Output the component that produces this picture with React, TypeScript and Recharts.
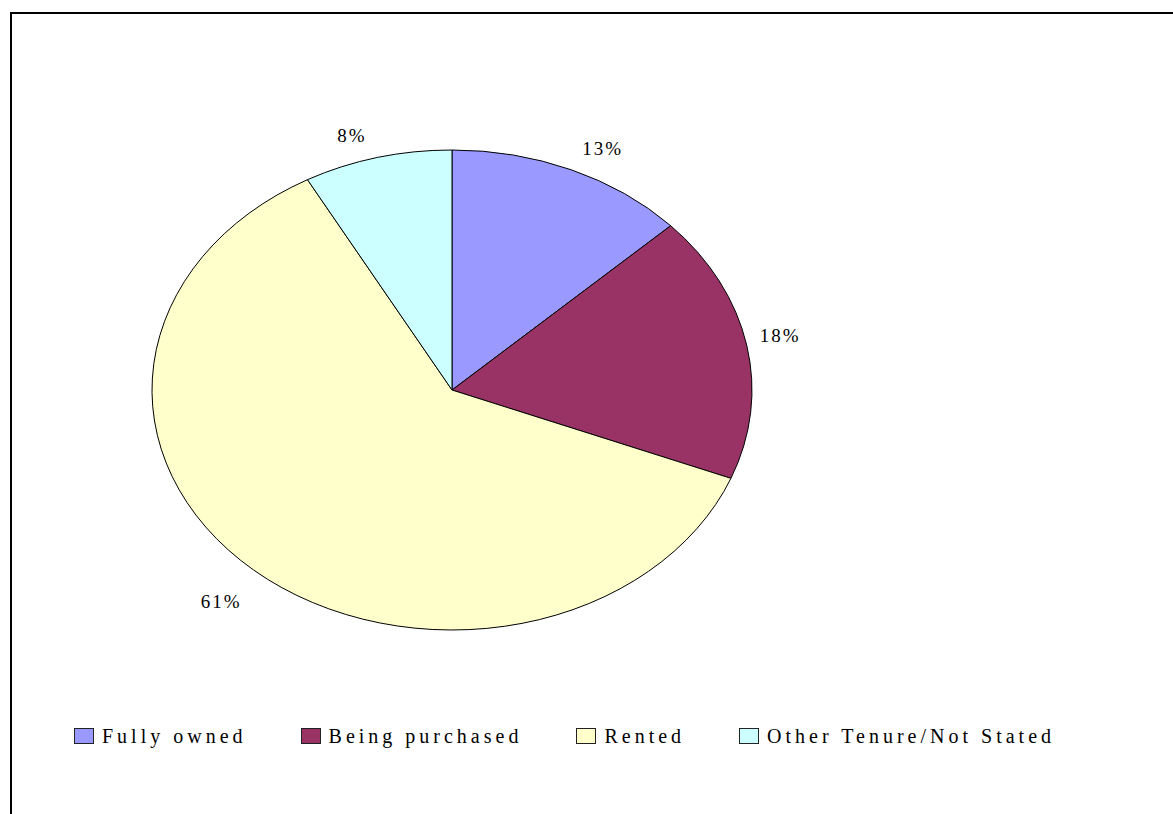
import { PieChart, Pie, Cell, Legend } from "recharts";

const CATEGORIES = ["Fully owned", "Being purchased", "Rented", "Other Tenure/Not Stated"];
const SHARES = [13, 18, 61, 8];
const COLORS = ["#9999FF", "#993366", "#FFFFCC", "#CCFFFF"];

const WIDTH = 1173;
const HEIGHT = 814;
const CX = 452;
const CY = 390;
const RX = 300;
const RY = 240;
const SQUASH = RY / RX;
const RAD = Math.PI / 180;
const FONT = '"Liberation Serif", "Times New Roman", serif';

const pieData = CATEGORIES.map((name, i) => ({ name, value: SHARES[i] }));

function onEllipse(cx: number, cy: number, r: number, angle: number) {
  return [cx + r * Math.cos(angle * RAD), cy - r * SQUASH * Math.sin(angle * RAD)];
}

// recharts only draws round pies, so the sector is redrawn as an elliptical wedge
function EllipseSector(props: any) {
  const { cx, cy, outerRadius, startAngle, endAngle, fill } = props;
  const [x1, y1] = onEllipse(cx, cy, outerRadius, startAngle);
  const [x2, y2] = onEllipse(cx, cy, outerRadius, endAngle);
  const large = Math.abs(endAngle - startAngle) > 180 ? 1 : 0;
  const sweep = startAngle > endAngle ? 1 : 0;
  const d = `M${cx},${cy} L${x1},${y1} A${outerRadius},${outerRadius * SQUASH} 0 ${large} ${sweep} ${x2},${y2} Z`;
  return <path d={d} fill={fill} stroke="#000" strokeWidth={1} strokeLinejoin="round" />;
}

function renderLabel(props: any) {
  const { cx, cy, midAngle, outerRadius, percent } = props;
  const cos = Math.cos(midAngle * RAD);
  const sin = Math.sin(midAngle * RAD);
  const [ex, ey] = onEllipse(cx, cy, outerRadius, midAngle);
  const x = ex + Math.sign(cos) * (10 + 3 * Math.abs(cos));
  // labels above the pie sit on their baseline, labels below hang further off
  const y = sin >= 0 ? ey - 16 * sin : ey - 33 * sin + 13;
  return (
    <text
      x={x}
      y={y}
      textAnchor={cos >= 0 ? "start" : "end"}
      fontFamily={FONT}
      fontSize={19}
      letterSpacing={2}
      fill="#000"
    >
      {`${Math.round(percent * 100)}%`}
    </text>
  );
}

function LegendContent() {
  return (
    <div style={{ display: "flex", alignItems: "center", fontFamily: FONT, fontSize: 20, lineHeight: "20px" }}>
      {CATEGORIES.map((name, i) => (
        <div key={name} style={{ display: "flex", alignItems: "center", marginRight: 54 }}>
          <span
            style={{
              width: 18,
              height: 14,
              border: "1px solid #222",
              background: COLORS[i],
              marginRight: 8,
              display: "inline-block",
            }}
          />
          <span style={{ letterSpacing: 4, color: "#000", whiteSpace: "nowrap" }}>{name}</span>
        </div>
      ))}
    </div>
  );
}

export default function App() {
  return (
    <div
      style={{
        position: "absolute",
        left: 0,
        top: 0,
        width: WIDTH,
        height: HEIGHT,
        overflow: "hidden",
        background: "#fff",
      }}
    >
      <div
        style={{
          position: "absolute",
          left: 10,
          top: 12,
          width: 1300,
          height: 1000,
          borderLeft: "2px solid #000",
          borderTop: "2px solid #000",
        }}
      />
      <div style={{ position: "absolute", left: 0, top: 0 }}>
        <PieChart width={WIDTH} height={HEIGHT} margin={{ top: 0, right: 0, bottom: 0, left: 0 }}>
          <Pie
            data={pieData}
            dataKey="value"
            nameKey="name"
            cx={CX}
            cy={CY}
            outerRadius={RX}
            startAngle={90}
            endAngle={-270}
            shape={EllipseSector}
            inactiveShape={EllipseSector}
            activeShape={EllipseSector}
            label={renderLabel}
            labelLine={false}
            isAnimationActive={false}
          >
            {pieData.map((d, i) => (
              <Cell key={d.name} fill={COLORS[i]} />
            ))}
          </Pie>
          <Legend
            content={<LegendContent />}
            wrapperStyle={{ left: 74, top: 726, width: 1050, bottom: "auto" }}
          />
        </PieChart>
      </div>
    </div>
  );
}
